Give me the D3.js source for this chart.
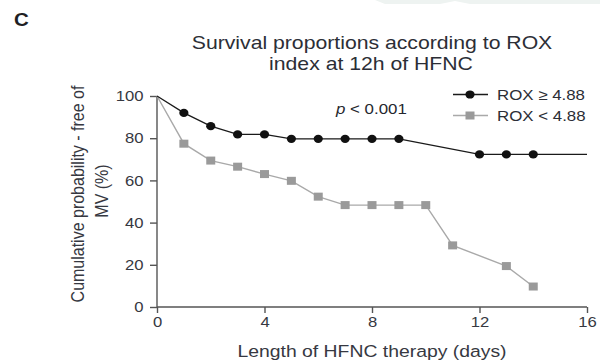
<!DOCTYPE html>
<html>
<head>
<meta charset="utf-8">
<script src="https://cdn.jsdelivr.net/npm/d3@7"></script>
<style>
  html, body { margin: 0; padding: 0; background: #fff; }
  svg { display: block; font-family: "Liberation Sans", Arial, sans-serif; }
</style>
</head>
<body>
<svg id="chart" width="600" height="361"></svg>
<script>
// Kaplan–Meier style survival curves, free of mechanical ventilation
const roxHighDays = [0, 1, 2, 3, 4, 5, 6, 7, 8, 9, 12, 13, 14, 16];
const roxHighValues = [100, 92, 85.7, 81.8, 81.8, 79.7, 79.7, 79.7, 79.7, 79.7, 72.3, 72.3, 72.3, 72.3];
const roxHighMarked = [false, true, true, true, true, true, true, true, true, true, true, true, true, false];
const roxLowDays = [0, 1, 2, 3, 4, 5, 6, 7, 8, 9, 10, 11, 13, 14];
const roxLowValues = [100, 77.4, 69.4, 66.5, 63, 59.8, 52.3, 48.3, 48.3, 48.3, 48.3, 29.2, 19.4, 9.7];
const roxLowMarked = [false, true, true, true, true, true, true, true, true, true, true, true, true, true];
const xTicks = [0, 4, 8, 12, 16];
const yTicks = [0, 20, 40, 60, 80, 100];
const seriesNames = ["ROX \u2265 4.88", "ROX < 4.88"];

const svg = d3.select("#chart");
const ink = "#363841";
const SX = 1.14; // figure type is set slightly wide

// place a horizontally widened label whose anchor sits at (x, y)
function label(parent, x, y, txt, size, anchor, extra) {
  const g = parent.append("g").attr("transform", `translate(${x},${y}) scale(${SX},1)${extra || ""}`);
  const t = g.append("text").attr("x", 0).attr("y", 0)
    .attr("text-anchor", anchor || "start").attr("font-size", size).attr("fill", ink);
  if (txt !== null) t.text(txt);
  return t;
}

// faint band along the top edge
svg.append("path")
  .attr("d", "M375,0 L600,0 L600,4 L470,4 L455,1 L440,4 L385,4 Z")
  .attr("fill", "#eef3f1");

const x = d3.scaleLinear().domain([0, 16]).range([157, 587]);
const y = d3.scaleLinear().domain([0, 100]).range([307, 96]);

// panel letter
label(svg, 14, 26, "C", 18, "start").attr("font-weight", "bold").attr("fill", "#1e1f24");

// title
label(svg, 372, 49, "Survival proportions according to ROX", 18.6, "middle").attr("fill", "#2c2e36");
label(svg, 371, 70, "index at 12h of HFNC", 18.6, "middle").attr("fill", "#2c2e36");

// axes
const xAxis = d3.axisBottom(x).tickValues(xTicks).tickSize(6).tickPadding(4);
const yAxis = d3.axisLeft(y).tickValues(yTicks).tickSize(7).tickPadding(5);

const gx = svg.append("g").attr("transform", `translate(0,${y(0)})`).call(xAxis);
const gy = svg.append("g").attr("transform", `translate(${x(0)},0)`).call(yAxis);
[gx, gy].forEach(g => {
  g.select(".domain").attr("stroke", "#555").attr("stroke-width", 1.4);
  g.selectAll(".tick line").attr("stroke", "#555").attr("stroke-width", 1.4);
  g.selectAll(".tick text").attr("font-size", 14.6).attr("fill", ink)
    .attr("font-family", "'Liberation Sans', Arial, sans-serif");
});
gx.selectAll(".tick text").attr("transform", `scale(${SX},1)`);
gy.selectAll(".tick text").attr("x", -13.5 / SX).attr("transform", `scale(${SX},1)`);
gx.select(".domain").attr("d", `M${x(0)},0H${x(16)}`);
gy.select(".domain").attr("d", `M0,${y(0)}V${y(100)}`);

// axis titles
label(svg, 372, 357, "Length of HFNC therapy (days)", 17, "middle");
label(svg, 84, 194, "Cumulative probability - free of", 16, "middle", " rotate(-90)");
label(svg, 108, 191, "MV (%)", 16, "middle", " rotate(-90)");

// curves
const line = d3.line().x(d => x(d[0])).y(d => y(d[1]));
const highPts = roxHighDays.map((d, i) => [d, roxHighValues[i], roxHighMarked[i]]);
const lowPts = roxLowDays.map((d, i) => [d, roxLowValues[i], roxLowMarked[i]]);

svg.append("path").datum(lowPts).attr("d", line)
  .attr("fill", "none").attr("stroke", "#a9a9a9").attr("stroke-width", 1.4);
svg.append("path").datum(highPts).attr("d", line)
  .attr("fill", "none").attr("stroke", "#1a1a1a").attr("stroke-width", 1.3);

const sqW = 9, sqH = 8;
svg.selectAll("rect.low").data(lowPts.filter(d => d[2])).enter().append("rect")
  .attr("class", "low")
  .attr("x", d => x(d[0]) - sqW / 2).attr("y", d => y(d[1]) - sqH / 2)
  .attr("width", sqW).attr("height", sqH).attr("fill", "#9a9a9a");
svg.selectAll("ellipse.high").data(highPts.filter(d => d[2])).enter().append("ellipse")
  .attr("class", "high")
  .attr("cx", d => x(d[0])).attr("cy", d => y(d[1])).attr("rx", 4.6).attr("ry", 4.1).attr("fill", "#111");

// p-value
const pv = label(svg, 336, 114, null, 14.8, "start").attr("fill", "#25272e");
pv.append("tspan").attr("font-style", "italic").text("p");
pv.append("tspan").text(" < 0.001");

// legend
const legend = svg.append("g");
const ly = [94.5, 115.5];
legend.append("line").attr("x1", 453).attr("x2", 488).attr("y1", ly[0]).attr("y2", ly[0])
  .attr("stroke", "#1a1a1a").attr("stroke-width", 1.3);
legend.append("ellipse").attr("cx", 470).attr("cy", ly[0]).attr("rx", 4.6).attr("ry", 4.1).attr("fill", "#111");
legend.append("line").attr("x1", 453).attr("x2", 488).attr("y1", ly[1]).attr("y2", ly[1])
  .attr("stroke", "#a9a9a9").attr("stroke-width", 1.4);
legend.append("rect").attr("x", 470 - sqW / 2).attr("y", ly[1] - sqH / 2)
  .attr("width", sqW).attr("height", sqH).attr("fill", "#9a9a9a");
seriesNames.forEach((n, i) => {
  label(legend, 497, ly[i] + 5.3, n, 14.8, "start").attr("fill", "#2c2e36");
});
</script>
</body>
</html>
